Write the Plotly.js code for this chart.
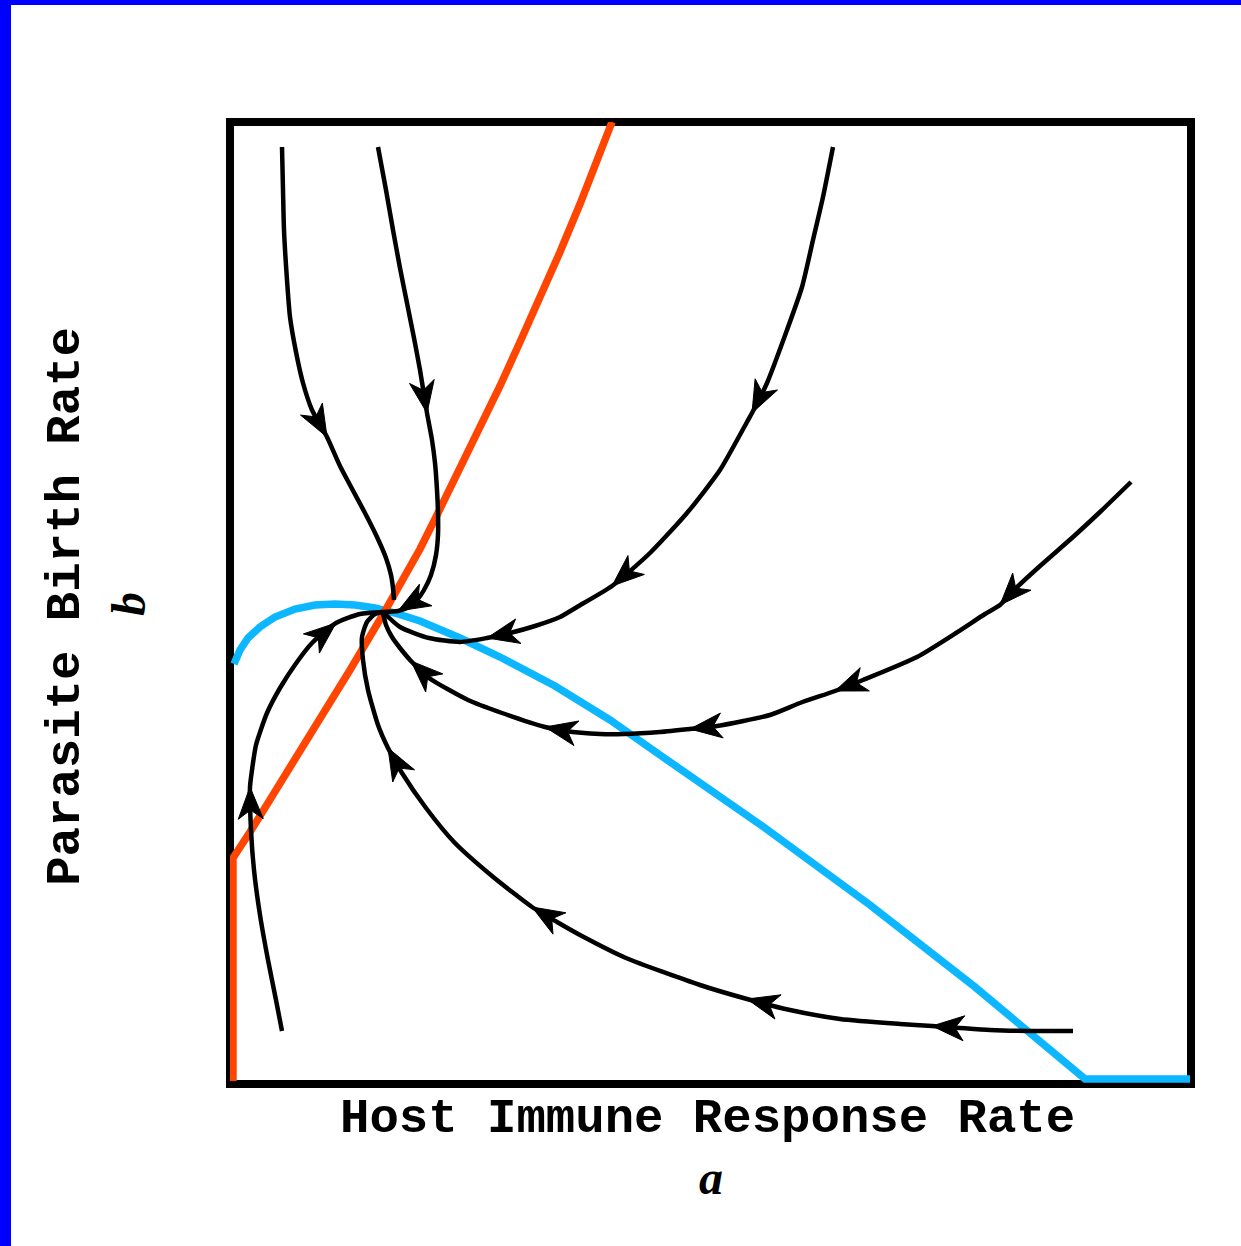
<!DOCTYPE html>
<html>
<head>
<meta charset="utf-8">
<script src="https://cdn.plot.ly/plotly-3.0.1.min.js"></script>
<style>
  html, body { margin: 0; padding: 0; background: #ffffff; }
  #wrap { position: relative; width: 1241px; height: 1246px; overflow: hidden; }
  #chart { position: absolute; left: 0; top: 0; width: 1241px; height: 1246px; }
  .edge { position: absolute; background: #0000ff; }
</style>
</head>
<body>
<div id="wrap">
  <div id="chart"></div>
  <div class="edge" style="left:0;top:0;width:1241px;height:5px"></div>
  <div class="edge" style="left:0;top:0;width:11px;height:1246px"></div>
</div>
<script>
// Phase plane of host immune response rate (a) vs parasite birth rate (b).

// Nullcline for a (orange)
const orangeA = [0.3, 0.3, 2.0, 4.0, 8.0, 12.0, 15.5, 19.0, 20.7, 23.0, 25.0, 27.0, 29.0, 31.0, 33.0, 35.0, 36.6, 38.2];
const orangeB = [0.3, 22.6, 25.2, 28.4, 34.9, 41.4, 47.3, 53.5, 56.9, 61.5, 65.6, 69.8, 74.2, 78.6, 83.2, 88.0, 92.1, 96.2];

// Nullcline for b (blue)
const blueA = [0.4, 1.0, 1.8, 3.0, 4.5, 6.5, 8.5, 10.5, 12.5, 14.5, 16.5, 19.0, 23.0, 27.0, 32.5, 38.0, 43.0, 53.5, 64.0, 74.5, 85.5, 96.0];
const blueB = [42.0, 43.4, 44.6, 45.7, 46.7, 47.5, 47.9, 48.0, 47.9, 47.6, 47.1, 46.3, 44.6, 42.7, 39.8, 36.4, 32.9, 25.6, 17.9, 9.7, 0.5, 0.5];

// Trajectories converging on the equilibrium
const traj1A = [5.2, 5.3, 5.4, 5.7, 6.0, 6.6, 7.3, 8.2, 9.7, 11.0, 12.0, 13.5, 14.7, 15.6, 16.1, 16.3, 16.4];
const traj1B = [93.7, 89.4, 85.4, 80.4, 76.7, 73.2, 70.1, 67.4, 64.7, 61.8, 59.9, 57.1, 54.7, 52.6, 50.9, 49.6, 48.4];
const traj1Arrows = [8];

const traj2A = [14.8, 15.6, 16.3, 17.0, 17.7, 18.4, 19.0, 19.7, 20.2, 20.5, 20.7, 20.8, 20.8, 20.6, 20.1, 19.4, 18.7, 17.9, 16.8, 15.3];
const traj2B = [93.7, 89.4, 85.4, 81.6, 78.1, 74.6, 71.4, 67.1, 64.4, 62.1, 59.4, 57.1, 54.9, 52.9, 50.9, 49.4, 48.4, 47.7, 47.3, 47.2];
const traj2Arrows = [7, 18];

const traj3A = [60.3, 59.3, 58.3, 57.2, 55.7, 53.7, 52.2, 51.7, 49.0, 45.7, 42.0, 38.2, 34.7, 33.0, 30.5, 28.0, 25.7, 23.0, 19.9, 17.0, 15.3];
const traj3B = [93.7, 88.7, 84.4, 79.7, 75.4, 70.1, 67.1, 66.2, 61.4, 57.1, 53.1, 49.8, 47.7, 46.7, 45.8, 45.1, 44.6, 44.2, 44.6, 45.7, 47.2];
const traj3Arrows = [6, 11, 16];

const traj4A = [90.1, 87.0, 84.3, 81.0, 78.4, 77.0, 75.5, 72.6, 68.7, 63.3, 60.5, 57.0, 54.0, 48.7, 46.0, 43.0, 39.4, 37.0, 33.5, 31.5, 27.2, 23.8, 19.9, 18.1, 17.0, 16.2, 15.6, 15.3];
const traj4B = [60.2, 57.2, 54.7, 51.8, 49.4, 47.9, 47.0, 45.1, 42.7, 40.4, 39.3, 38.1, 36.9, 35.8, 35.5, 35.2, 35.0, 35.0, 35.3, 35.7, 37.1, 38.4, 40.6, 42.3, 43.6, 44.7, 45.9, 47.1];
const traj4Arrows = [5, 10, 14, 19, 23];

const traj5A = [84.3, 80.0, 76.0, 73.0, 70.2, 67.0, 61.0, 56.0, 51.7, 47.0, 39.6, 35.0, 32.7, 30.2, 26.2, 22.4, 19.6, 17.2, 15.8, 14.8, 13.8, 13.3, 13.2, 13.7, 14.5, 15.3];
const traj5B = [5.3, 5.3, 5.4, 5.6, 5.8, 6.0, 6.5, 7.4, 8.5, 9.9, 12.6, 14.9, 16.2, 17.7, 20.8, 24.2, 27.6, 31.1, 33.6, 35.9, 39.4, 42.4, 44.7, 46.2, 47.0, 47.2];
const traj5Arrows = [4, 8, 13, 18];

const traj6A = [5.2, 4.6, 3.8, 3.0, 2.4, 2.1, 2.0, 2.2, 2.6, 3.7, 5.0, 6.7, 8.2, 10.6, 13.0, 15.3];
const traj6B = [5.3, 8.4, 12.4, 16.9, 21.4, 25.4, 29.7, 31.4, 33.9, 37.1, 39.6, 42.2, 44.1, 46.1, 47.0, 47.2];
const traj6Arrows = [6, 13];

const trajectories = [
  { a: traj1A, b: traj1B, arrows: traj1Arrows },
  { a: traj2A, b: traj2B, arrows: traj2Arrows },
  { a: traj3A, b: traj3B, arrows: traj3Arrows },
  { a: traj4A, b: traj4B, arrows: traj4Arrows },
  { a: traj5A, b: traj5B, arrows: traj5Arrows },
  { a: traj6A, b: traj6B, arrows: traj6Arrows }
];

// Barbed arrowheads built from the local direction of each trajectory
function arrowHeads(list) {
  const L = 3.2, W = 1.25, N = 2.3;
  const xs = [], ys = [];
  list.forEach(t => {
    t.arrows.forEach(i => {
      const tx = t.a[i], ty = t.b[i];
      let j = i - 1;
      while (j > 0 && Math.hypot(tx - t.a[j], ty - t.b[j]) < 1.5) j--;
      let dx = tx - t.a[j], dy = ty - t.b[j];
      const len = Math.hypot(dx, dy);
      dx /= len; dy /= len;
      const nx = -dy, ny = dx;
      xs.push(tx, tx - L * dx + W * nx, tx - N * dx, tx - L * dx - W * nx, tx, null);
      ys.push(ty, ty - L * dy + W * ny, ty - N * dy, ty - L * dy - W * ny, ty, null);
    });
  });
  return { xs, ys };
}

const traces = [];
traces.push({ x: blueA, y: blueB, mode: 'lines', line: { color: '#0db7ff', width: 7.5 }, hoverinfo: 'skip' });
traces.push({ x: orangeA, y: orangeB, mode: 'lines', line: { color: '#ff4500', width: 7.5 }, hoverinfo: 'skip' });
trajectories.forEach(t => {
  traces.push({ x: t.a, y: t.b, mode: 'lines', line: { color: '#000000', width: 4.5, shape: 'spline', smoothing: 0.6 }, hoverinfo: 'skip' });
});
const heads = arrowHeads(trajectories);
traces.push({ x: heads.xs, y: heads.ys, mode: 'lines', fill: 'toself', fillcolor: '#000000',
  line: { color: '#000000', width: 1 }, hoverinfo: 'skip' });

const monoFont = { family: 'Liberation Mono, Courier New, monospace', size: 49, color: '#000000' };
const serifFont = { family: 'Liberation Serif, Times New Roman, serif', size: 48, color: '#000000' };

const layout = {
  width: 1241, height: 1246,
  margin: { l: 230, r: 50, t: 122, b: 162, pad: 0 },
  paper_bgcolor: '#ffffff', plot_bgcolor: '#ffffff',
  showlegend: false,
  xaxis: { range: [0, 96.1], showgrid: false, zeroline: false, showticklabels: false, ticks: '', showline: false, fixedrange: true },
  yaxis: { range: [0, 96.2], showgrid: false, zeroline: false, showticklabels: false, ticks: '', showline: false, fixedrange: true },
  shapes: [{ type: 'rect', xref: 'paper', yref: 'paper', x0: 0, x1: 1, y0: 0, y1: 1,
    line: { color: '#000000', width: 8 }, layer: 'below' }],
  annotations: [
    { xref: 'paper', yref: 'paper', x: 0.497, y: -0.0364, xanchor: 'center', yanchor: 'middle',
      text: '<b>Host Immune Response Rate</b>', showarrow: false, font: monoFont },
    { xref: 'paper', yref: 'paper', x: 0.5, y: -0.0977, xanchor: 'center', yanchor: 'middle',
      text: '<b><i>a</i></b>', showarrow: false, font: serifFont },
    { xref: 'paper', yref: 'paper', x: -0.1707, y: 0.497, xanchor: 'center', yanchor: 'middle', textangle: -90,
      text: '<b>Parasite Birth Rate</b>', showarrow: false, font: monoFont },
    { xref: 'paper', yref: 'paper', x: -0.105, y: 0.499, xanchor: 'center', yanchor: 'middle', textangle: -90,
      text: '<b><i>b</i></b>', showarrow: false, font: serifFont }
  ]
};

Plotly.newPlot('chart', traces, layout, { staticPlot: true, displayModeBar: false });
</script>
</body>
</html>
